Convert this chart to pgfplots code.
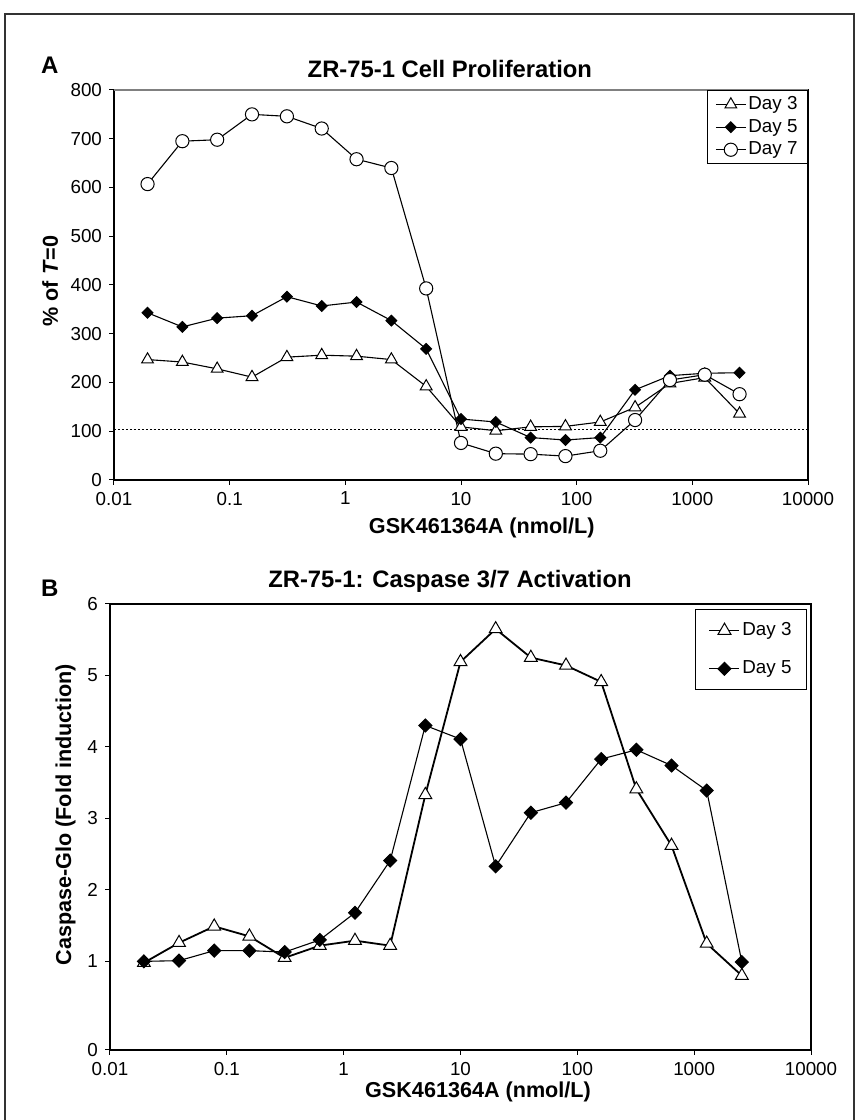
\documentclass[border=0pt]{standalone}
\usepackage{fontspec}
\setmainfont{Liberation Sans}
\usepackage{pgfplots}
\pgfplotsset{compat=1.18}

\pgfplotsset{
  zrbase/.style={
    scale only axis,
    xtick={0.01,0.1,1,10,100,1000,10000},
    xticklabels={0.01,0.1,1,10,100,1000,10000},
    xminorticks=false,
    tick align=outside,
    tick pos=left,
    major tick length=2.5pt,
    tick style={black, line width=0.5pt},
    axis line style={black, line width=0.75pt},
    tick label style={font=\fontsize{9.4}{11}\selectfont},
    /pgf/number format/assume math mode=true,
    title style={font=\bfseries\fontsize{11.9}{14}\selectfont, anchor=base},
    label style={font=\bfseries\fontsize{10.8}{13}\selectfont},
    legend cell align=left,
    legend image code/.code={\draw[mark repeat=2,mark phase=2,##1] plot coordinates {(0pt,0pt) (7.5pt,0pt) (15pt,0pt)};},
  },
  day3/.style={black, line width=0.55pt, mark=triangle*, mark size=3.4pt, mark options={fill=white, line width=0.5pt}},
  day5/.style={black, line width=0.55pt, mark=square*, mark size=1.9pt, mark options={fill=black, rotate=45, line width=0.5pt}},
  day7/.style={black, line width=0.55pt, mark=*, mark size=3.3pt, mark options={fill=white, line width=0.5pt}},
}

\begin{document}
\begin{tikzpicture}
\path[use as bounding box] (0,0) rectangle (429.5pt,560pt);
\draw[black!80, line width=0.8pt] (2.5pt,0pt) -- (2.5pt,553pt) -- (427pt,553pt) -- (427pt,0pt);

\node[font=\bfseries\fontsize{12}{14}\selectfont, anchor=base west] at (17pt,523pt) {A};
\node[font=\bfseries\fontsize{12}{14}\selectfont, anchor=base west] at (17pt,261.5pt) {B};

% panel A
\begin{axis}[zrbase,
    xmode=log, xmin=0.01, xmax=10000,
    at={(57pt,320pt)}, anchor=south west,
    width=347pt, height=195pt,
    ymin=0, ymax=800, ytick={0,100,...,800},
    title={ZR-75-1 Cell Proliferation},
    title style={at={(axis description cs:0.484,1)}},
    xlabel={GSK461364A (nmol/L)},
    xlabel style={at={(axis description cs:0.530,0)}, anchor=base, yshift=-27pt},
    ylabel={\% of \textit{T}=0},
    ylabel style={at={(axis description cs:-0.0807,0.51)}, anchor=base},
    legend style={at={(1,1)}, anchor=north east, draw=black, line width=0.5pt,
      font=\fontsize{9.4}{11}\selectfont, inner xsep=4pt, inner ysep=2pt,
      row sep=1.3pt, nodes={inner xsep=1pt, inner ysep=1pt}},
]
\addplot[black, line width=0.7pt, dash pattern=on 1pt off 1pt, forget plot] coordinates {(0.01,104) (10000,104)};
\addplot[day3] coordinates {
  (0.0195,247) (0.039,242) (0.078,228) (0.156,211) (0.3125,252) (0.625,256)
  (1.25,254) (2.5,247) (5,192) (10,109) (20,101) (40,109) (80,110) (160,119)
  (320,149) (640,198) (1280,210) (2560,136)
};
\addplot[day5] coordinates {
  (0.0195,343) (0.039,314) (0.078,332) (0.156,337) (0.3125,376) (0.625,357)
  (1.25,365) (2.5,327) (5,269) (10,125) (20,119) (40,87) (80,82) (160,87)
  (320,185) (640,214) (1280,219) (2560,220)
};
\addplot[day7] coordinates {
  (0.0195,607) (0.039,695) (0.078,698) (0.156,750) (0.3125,746) (0.625,721)
  (1.25,658) (2.5,640) (5,393) (10,76) (20,54) (40,53) (80,49) (160,60)
  (320,123) (640,205) (1280,216) (2560,176)
};
\legend{Day 3, Day 5, Day 7}
\draw[gray, line width=1pt] (rel axis cs:0,1) -- (rel axis cs:1,1);
\end{axis}

% panel B
\begin{axis}[zrbase,
    xmode=log, xmin=0.01, xmax=10000,
    at={(55pt,35pt)}, anchor=south west,
    width=350.5pt, height=223pt,
    ymin=-0.24, ymax=6, ytick={-0.24,1,2,3,4,5,6},
    yticklabels={0,1,2,3,4,5,6},
    title={ZR-75-1: Caspase 3/7 Activation},
    title style={at={(axis description cs:0.485,1)}, yshift=2pt},
    xlabel={GSK461364A (nmol/L)},
    xlabel style={at={(axis description cs:0.525,0)}, anchor=base, yshift=-24pt},
    ylabel={Caspase-Glo (Fold induction)},
    ylabel style={at={(axis description cs:-0.0556,0.527)}, anchor=base},
    legend style={at={(1,1)}, anchor=north east, xshift=-2pt, yshift=-2.5pt,
      draw=black, line width=0.5pt,
      font=\fontsize{9.4}{11}\selectfont, inner xsep=6.5pt, inner ysep=5.5pt,
      row sep=9.1pt, nodes={inner xsep=1pt, inner ysep=1pt}},
]
\addplot[day3, line width=0.9pt, mark size=3.7pt] coordinates {
  (0.0195,0.98) (0.039,1.26) (0.078,1.49) (0.156,1.35) (0.3125,1.05) (0.625,1.22)
  (1.25,1.29) (2.5,1.22) (5,3.33) (10,5.19) (20,5.65) (40,5.25) (80,5.14) (160,4.91)
  (320,3.41) (640,2.62) (1280,1.25) (2560,0.80)
};
\addplot[day5, mark size=2.3pt] coordinates {
  (0.0195,1.00) (0.039,1.01) (0.078,1.15) (0.156,1.15) (0.3125,1.13) (0.625,1.30)
  (1.25,1.68) (2.5,2.41) (5,4.30) (10,4.11) (20,2.33) (40,3.08) (80,3.22) (160,3.83)
  (320,3.96) (640,3.74) (1280,3.39) (2560,0.99)
};
\legend{Day 3, Day 5}
\draw[black, line width=1.3pt] (rel axis cs:0,0) -- (rel axis cs:1,0);
\end{axis}
\end{tikzpicture}
\end{document}
